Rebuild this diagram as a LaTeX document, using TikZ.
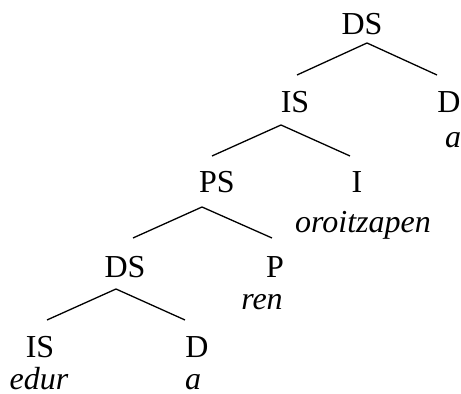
\documentclass[tikz,border=0pt]{standalone}
\usepackage{fontspec}
\setmainfont{Liberation Serif}
\begin{document}
\begin{tikzpicture}[x=0.5pt,y=-0.5pt]
	\useasboundingbox (0,0) rectangle (461,394);
	\begin{scope}[every node/.style={anchor=base,inner sep=0pt,font=\fontsize{16}{19}\selectfont}]
	\node (ds1) at (362,35) {DS};
	\node (is1) at (295,113) {IS};
	\node (d1) at (449,113) {D};
	\node (a1) at (453,148) {\itshape a};
	\node (ps) at (217,193) {PS};
	\node (i) at (357,193) {I};
	\node (oroitzapen) at (363,233) {\itshape oroitzapen};
	\node (ds2) at (125,278) {DS};
	\node (p) at (275,278) {P};
	\node (ren) at (262,310) {\itshape ren};
	\node (is2) at (40,358) {IS};
	\node (d2) at (197,358) {D};
	\node (edur) at (39,390) {\itshape edur};
	\node (a2) at (193,390) {\itshape a};
	\end{scope}
	\coordinate (ds1-top) at (367,43);
	\coordinate (ds1-l) at (297,75);
	\coordinate (ds1-r) at (437,75);
	\coordinate (is1-top) at (281,125);
	\coordinate (is1-l) at (212,156);
	\coordinate (is1-r) at (350,156);
	\coordinate (ps-top) at (202,207);
	\coordinate (ps-l) at (133,238);
	\coordinate (ps-r) at (272,238);
	\coordinate (ds2-top) at (116,289);
	\coordinate (ds2-l) at (47,320);
	\coordinate (ds2-r) at (185,320);
	\begin{scope}[every edge/.style={draw=black,line width=0.65pt}]
	\path (ds1-top) edge (ds1-l);
	\path (ds1-top) edge (ds1-r);
	\path (is1-top) edge (is1-l);
	\path (is1-top) edge (is1-r);
	\path (ps-top) edge (ps-l);
	\path (ps-top) edge (ps-r);
	\path (ds2-top) edge (ds2-l);
	\path (ds2-top) edge (ds2-r);
	\end{scope}
\end{tikzpicture}
\end{document}
